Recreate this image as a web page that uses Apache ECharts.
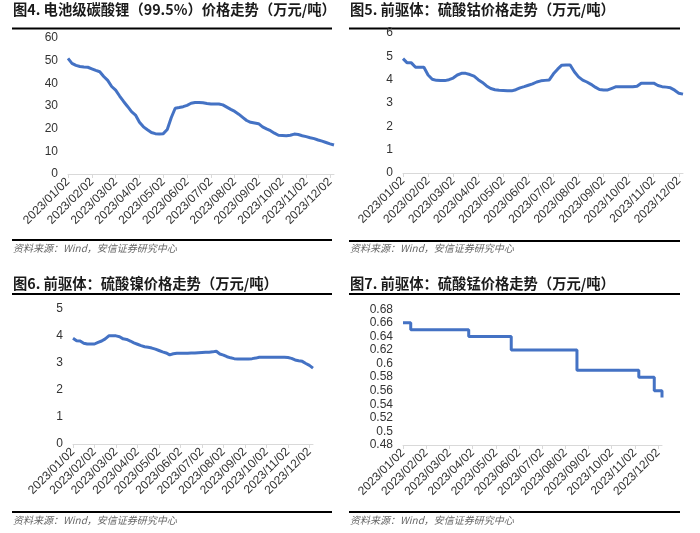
<!DOCTYPE html>
<html>
<head>
<meta charset="utf-8">
<script src="https://cdn.jsdelivr.net/npm/echarts@6/dist/echarts.min.js"></script>
<style>
html,body{margin:0;padding:0;background:#fff;}
#c{width:700px;height:533px;}
</style>
</head>
<body>
<div id="c"></div>
<script>
// Category dates (6 per month)
const dates = [
 '2023/01/02','2023/01/07','2023/01/12','2023/01/17','2023/01/22','2023/01/27',
 '2023/02/02','2023/02/07','2023/02/12','2023/02/17','2023/02/22','2023/02/27',
 '2023/03/02','2023/03/07','2023/03/12','2023/03/17','2023/03/22','2023/03/27',
 '2023/04/02','2023/04/07','2023/04/12','2023/04/17','2023/04/22','2023/04/27',
 '2023/05/02','2023/05/07','2023/05/12','2023/05/17','2023/05/22','2023/05/27',
 '2023/06/02','2023/06/07','2023/06/12','2023/06/17','2023/06/22','2023/06/27',
 '2023/07/02','2023/07/07','2023/07/12','2023/07/17','2023/07/22','2023/07/27',
 '2023/08/02','2023/08/07','2023/08/12','2023/08/17','2023/08/22','2023/08/27',
 '2023/09/02','2023/09/07','2023/09/12','2023/09/17','2023/09/22','2023/09/27',
 '2023/10/02','2023/10/07','2023/10/12','2023/10/17','2023/10/22','2023/10/27',
 '2023/11/02','2023/11/07','2023/11/12','2023/11/17','2023/11/22','2023/11/27',
 '2023/12/02','2023/12/07'
];

// 图4 电池级碳酸锂
const lithiumCarbonate = [
 51, 48.8, 47.9, 47.4, 47.2, 47.1,
 46.4, 45.7, 45.1, 43, 41.3, 38.6,
 37, 34.4, 32, 29.8, 27.5, 26,
 22.8, 20.8, 19.5, 18.3, 17.8, 17.6,
 17.8, 19.6, 24.8, 29, 29.3, 29.7,
 30.3, 31.2, 31.5, 31.5, 31.4, 31.1,
 30.9, 30.9, 30.9, 30.5, 29.5, 28.5,
 27.6, 26.4, 25, 23.6, 22.8, 22.5,
 22.2, 20.8, 19.9, 19.1, 18, 17.1,
 17, 16.9, 17.1, 17.6, 17.4, 16.9,
 16.5, 16, 15.6, 15, 14.5, 13.9,
 13.3, 12.8
];

// 图5 硫酸钴
const cobaltSulfate = [
 4.9, 4.72, 4.72, 4.53, 4.53, 4.53,
 4.2, 4.02, 3.97, 3.96, 3.96, 4.0,
 4.07, 4.2, 4.27, 4.27, 4.22, 4.15,
 4.0, 3.88, 3.73, 3.62, 3.57, 3.55,
 3.54, 3.53, 3.52, 3.57, 3.65, 3.7,
 3.76, 3.82, 3.9, 3.95, 3.97, 3.99,
 4.25, 4.45, 4.62, 4.63, 4.63, 4.34,
 4.12, 3.98, 3.9, 3.8, 3.68, 3.58,
 3.56, 3.56, 3.63, 3.7, 3.7, 3.7,
 3.7, 3.7, 3.72, 3.85, 3.85, 3.85,
 3.85, 3.75, 3.7, 3.68, 3.65, 3.55,
 3.42, 3.38
];

// 图6 硫酸镍
const nickelSulfate = [
 3.9, 3.81, 3.8, 3.72, 3.69, 3.69,
 3.69, 3.75, 3.8, 3.88, 3.99, 3.99,
 3.99, 3.96, 3.88, 3.86, 3.8, 3.73,
 3.68, 3.63, 3.59, 3.57, 3.54, 3.5,
 3.45, 3.4, 3.36, 3.29, 3.33, 3.35,
 3.35, 3.35, 3.35, 3.36, 3.36, 3.37,
 3.38, 3.39, 3.39, 3.4, 3.42, 3.32,
 3.28, 3.22, 3.18, 3.15, 3.14, 3.14,
 3.14, 3.14, 3.15, 3.17, 3.2, 3.2,
 3.2, 3.2, 3.2, 3.2, 3.2, 3.2,
 3.19, 3.16, 3.1, 3.07, 3.05, 2.97,
 2.9, 2.8
];

// 图7 硫酸锰
const manganeseSulfate = [
 0.66, 0.66, 0.65, 0.65, 0.65, 0.65,
 0.65, 0.65, 0.65, 0.65, 0.65, 0.65,
 0.65, 0.65, 0.65, 0.65, 0.65, 0.64,
 0.64, 0.64, 0.64, 0.64, 0.64, 0.64,
 0.64, 0.64, 0.64, 0.64, 0.62, 0.62,
 0.62, 0.62, 0.62, 0.62, 0.62, 0.62,
 0.62, 0.62, 0.62, 0.62, 0.62, 0.62,
 0.62, 0.62, 0.62, 0.59, 0.59, 0.59,
 0.59, 0.59, 0.59, 0.59, 0.59, 0.59,
 0.59, 0.59, 0.59, 0.59, 0.59, 0.59,
 0.59, 0.58, 0.58, 0.58, 0.58, 0.56,
 0.56, 0.55
];

const titles = [
 '图4. 电池级碳酸锂（99.5%）价格走势（万元/吨）',
 '图5. 前驱体：硫酸钴价格走势（万元/吨）',
 '图6. 前驱体：硫酸镍价格走势（万元/吨）',
 '图7. 前驱体：硫酸锰价格走势（万元/吨）'
];
const sourceText = '资料来源：Wind，安信证券研究中心';

const yRanges = [
 {min: 0, max: 60, interval: 10},
 {min: 0, max: 6, interval: 1},
 {min: 0, max: 5, interval: 1},
 {min: 0.48, max: 0.68, interval: 0.02}
];

const seriesData = [lithiumCarbonate, cobaltSulfate, nickelSulfate, manganeseSulfate];

const grids = [
 {left: 68, top: 38, width: 266, height: 136},
 {left: 403, top: 33, width: 280, height: 140},
 {left: 73, top: 308.5, width: 240, height: 135.5},
 {left: 403, top: 309.3, width: 259, height: 135.7}
];

const isMonthTick = (i, v) => /\/02$/.test(v);
const latin = 'Arial, "Liberation Sans", sans-serif';
const cjk = '"Noto Sans CJK SC", sans-serif';

const chart = echarts.init(document.getElementById('c'), null, {renderer: 'canvas'});

const panels = [
 {x0: 12, x1: 332, titleY: 11, topLine: 28.5, botLine: 240, srcY: 249},
 {x0: 349, x1: 680, titleY: 11, topLine: 28.5, botLine: 241, srcY: 249.5},
 {x0: 12, x1: 332, titleY: 285, topLine: 294, botLine: 512, srcY: 521},
 {x0: 349, x1: 680, titleY: 285, topLine: 294, botLine: 512, srcY: 521}
];

const graphics = [];
panels.forEach((p, i) => {
 graphics.push({type: 'text', left: p.x0 + 1, top: p.titleY - 9,
   style: {text: titles[i], font: 'bold 14.3px ' + cjk, fill: '#1a1a1a'}});
 graphics.push({type: 'line', shape: {x1: p.x0, y1: p.topLine, x2: p.x1, y2: p.topLine},
   style: {stroke: '#000', lineWidth: 2}});
 graphics.push({type: 'line', shape: {x1: p.x0, y1: p.botLine, x2: p.x1, y2: p.botLine},
   style: {stroke: '#000', lineWidth: 2}});
 graphics.push({type: 'text', left: p.x0 + 1, top: p.srcY - 6,
   style: {text: sourceText, font: 'italic 10px ' + cjk, fill: '#666'}});
});

chart.setOption({
 animation: false,
 backgroundColor: '#fff',
 grid: grids,
 xAxis: grids.map((g, i) => ({
   type: 'category', gridIndex: i, data: dates, boundaryGap: false,
   axisLine: {lineStyle: {color: '#d9d9d9', width: 1}},
   axisTick: {show: true, length: 4, interval: isMonthTick, lineStyle: {color: '#d9d9d9'}},
   axisLabel: {interval: isMonthTick, rotate: 45, margin: 6, fontSize: 12,
     color: '#333', fontFamily: latin},
   splitLine: {show: false}
 })),
 yAxis: grids.map((g, i) => ({
   type: 'value', gridIndex: i,
   min: yRanges[i].min, max: yRanges[i].max, interval: yRanges[i].interval,
   axisLine: {show: false}, axisTick: {show: false},
   splitLine: {show: false},
   axisLabel: {fontSize: 12, color: '#333', margin: 10, fontFamily: latin}
 })),
 series: seriesData.map((d, i) => ({
   type: 'line', xAxisIndex: i, yAxisIndex: i, data: d,
   showSymbol: false, symbol: 'none',
   step: i === 3 ? 'end' : false,
   lineStyle: {color: '#4472C4', width: 3},
   itemStyle: {color: '#4472C4'}
 })),
 graphic: graphics
});
</script>
</body>
</html>
